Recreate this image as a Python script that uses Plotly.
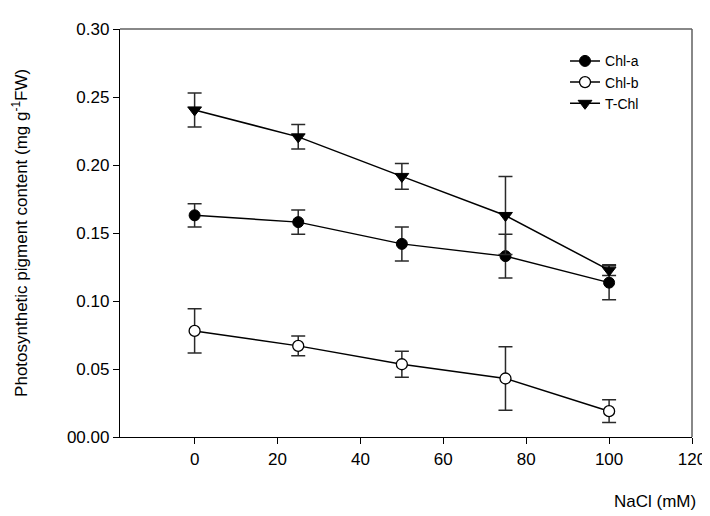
import plotly.graph_objects as go

nacl = [0, 25, 50, 75, 100]

chl_a = [0.163, 0.158, 0.142, 0.133, 0.1135]
chl_a_err = [0.0085, 0.009, 0.0125, 0.016, 0.0125]

chl_b = [0.078, 0.067, 0.0535, 0.043, 0.019]
chl_b_err = [0.0163, 0.0073, 0.0096, 0.0233, 0.0083]

t_chl = [0.2405, 0.2207, 0.1916, 0.1629, 0.1227]
t_chl_err = [0.0125, 0.009, 0.0095, 0.0287, 0.004]

y_ticks = [0, 0.05, 0.10, 0.15, 0.20, 0.25, 0.30]
y_ticktext = ["00.00", "0.05", "0.10", "0.15", "0.20", "0.25", "0.30"]
x_ticks = [0, 20, 40, 60, 80, 100, 120]

font = "Liberation Sans, Arial, sans-serif"
err_col = "#2a2a2a"

def err(vals):
    return dict(type="data", array=vals, visible=True, color=err_col, thickness=1.5, width=7)

fig = go.Figure()
fig.add_trace(go.Scatter(
    x=nacl, y=chl_a, name="Chl-a", mode="lines+markers",
    line=dict(color="black", width=1.5),
    marker=dict(symbol="circle", size=11, color="black", line=dict(color="black", width=1)),
    error_y=err(chl_a_err)))
fig.add_trace(go.Scatter(
    x=nacl, y=chl_b, name="Chl-b", mode="lines+markers",
    line=dict(color="black", width=1.5),
    marker=dict(symbol="circle", size=11, color="white", line=dict(color="black", width=1.3)),
    error_y=err(chl_b_err)))
fig.add_trace(go.Scatter(
    x=nacl, y=t_chl, name="T-Chl", mode="lines+markers",
    line=dict(color="black", width=1.5),
    marker=dict(symbol="triangle-down", size=12, color="black", line=dict(color="black", width=1)),
    error_y=err(t_chl_err)))

fig.update_layout(
    width=710, height=516,
    margin=dict(l=112, r=17, t=13, b=87),
    paper_bgcolor="white", plot_bgcolor="white",
    font=dict(family=font, size=17, color="black"),
    showlegend=True,
    legend=dict(x=0.778, y=0.96, xanchor="left", yanchor="top",
                bgcolor="rgba(0,0,0,0)", font=dict(size=14, family=font),
                tracegroupgap=0, itemwidth=30),
    xaxis=dict(range=[-18, 120], tickvals=x_ticks, ticks="outside", ticklen=6,
               tickcolor="black", showline=True, linecolor="black", linewidth=1.3,
               showgrid=False, zeroline=False, tickfont=dict(size=17)),
    yaxis=dict(range=[0, 0.30], tickvals=y_ticks, ticktext=y_ticktext, ticks="outside",
               ticklen=6, tickcolor="black", showline=True, linecolor="black", linewidth=1.3,
               showgrid=False, zeroline=False, tickfont=dict(size=17)),
)

fig.add_annotation(text="Photosynthetic pigment content (mg g<sup>-1</sup>FW)",
                   xref="paper", yref="paper", x=-0.175, y=0.5, textangle=-90,
                   xanchor="center", yanchor="middle", showarrow=False,
                   font=dict(size=17, family=font))

# top and right frame lines (gray)
fig.add_shape(type="line", xref="paper", yref="paper", x0=0, x1=1, y0=1, y1=1,
              line=dict(color="#606060", width=1.5))
fig.add_shape(type="line", xref="paper", yref="paper", x0=1, x1=1, y0=0, y1=1,
              line=dict(color="#606060", width=1.5))

fig.add_annotation(text="NaCl (mM)", xref="paper", yref="paper", x=1.01, y=-0.13,
                   xanchor="right", yanchor="top", showarrow=False,
                   font=dict(size=17, family=font))

fig.write_html("out.html")
